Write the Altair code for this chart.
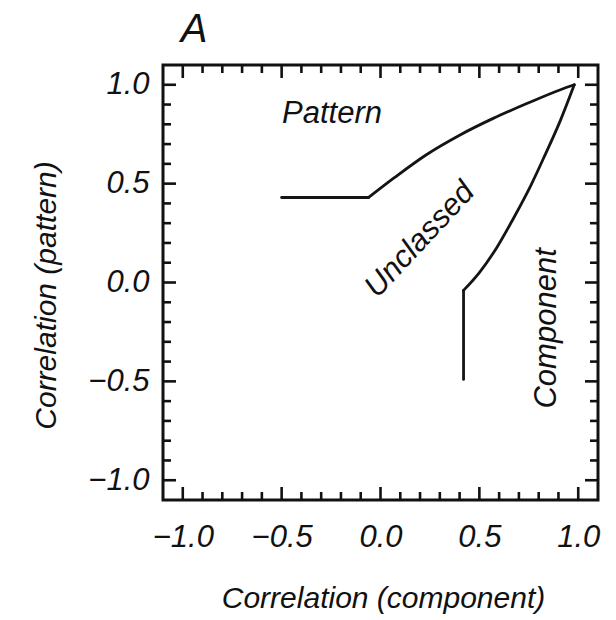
import altair as alt
import pandas as pd

# Boundary curves of the classification regions (correlation space)
pattern_flat_x = [-0.50, -0.06]
pattern_flat_y = [0.43, 0.43]
pattern_arc_x = [-0.06, 0.07, 0.23, 0.40, 0.57, 0.74, 0.91, 0.98]
pattern_arc_y = [0.43, 0.53, 0.645, 0.745, 0.83, 0.905, 0.975, 1.00]
component_stem_x = [0.42, 0.42]
component_stem_y = [-0.49, -0.04]
component_arc_x = [0.42, 0.50, 0.59, 0.67, 0.76, 0.83, 0.91, 0.98]
component_arc_y = [-0.04, 0.05, 0.18, 0.32, 0.49, 0.64, 0.82, 1.00]

# Region labels
region_names = ["Pattern", "Unclassed", "Component"]
region_x = [-0.245, 0.20, 0.84]
region_y = [0.85, 0.215, -0.232]
region_angle = [0, 313, 270]

# Tick positions
major_ticks = [-1.0, -0.5, 0.0, 0.5, 1.0]
minor_ticks = [-0.9, -0.8, -0.7, -0.6, -0.4, -0.3, -0.2, -0.1,
               0.1, 0.2, 0.3, 0.4, 0.6, 0.7, 0.8, 0.9]

W = H = 435
FONT = "Liberation Sans"
INK = "#111"


def segment_frame(parts):
    rows = []
    for name, xs_, ys_ in parts:
        for i, (xv, yv) in enumerate(zip(xs_, ys_)):
            rows.append({"x": xv, "y": yv, "curve": name, "i": i})
    return pd.DataFrame(rows)


straight = segment_frame([
    ("pattern_flat", pattern_flat_x, pattern_flat_y),
    ("component_stem", component_stem_x, component_stem_y),
])
arcs = segment_frame([
    ("pattern_arc", pattern_arc_x, pattern_arc_y),
    ("component_arc", component_arc_x, component_arc_y),
])
labels = pd.DataFrame({"name": region_names, "x": region_x,
                       "y": region_y, "angle": region_angle})

xs = alt.Scale(domain=[-1.1, 1.1], nice=False, zero=False)
ys = alt.Scale(domain=[-1.1, 1.1], nice=False, zero=False)

axis_common = dict(
    values=major_ticks, format=".1f", ticks=False, domain=False, grid=False,
    labelFont=FONT, labelFontStyle="italic", labelFontSize=31, labelColor=INK,
    titleFont=FONT, titleFontStyle="italic", titleFontWeight="normal",
    titleFontSize=30, titleColor=INK,
)
x_axis = alt.Axis(
    title="Correlation (component)", labelPadding=22,
    titleX=220, titleY=98, titleBaseline="middle", titleAlign="center",
    **axis_common)
y_axis = alt.Axis(
    title="Correlation (pattern)", labelPadding=14,
    titleX=-117, titleY=230, titleAngle=270, titleAlign="center",
    titleBaseline="middle", **axis_common)


def curve_layer(df, interp):
    return alt.Chart(df).mark_line(
        color="#141414", strokeWidth=2.8, interpolate=interp,
        strokeCap="round", strokeJoin="round",
    ).encode(
        x=alt.X("x:Q", scale=xs, axis=x_axis),
        y=alt.Y("y:Q", scale=ys, axis=y_axis),
        detail="curve:N",
        order="i:Q",
    )


text_layers = [
    alt.Chart(labels[labels["name"] == n]).mark_text(
        font=FONT, fontStyle="italic", fontSize=31, color=INK,
        angle=a, align="center", baseline="middle",
    ).encode(
        x=alt.X("x:Q", scale=xs, axis=x_axis),
        y=alt.Y("y:Q", scale=ys, axis=y_axis),
        text="name:N",
    )
    for n, a in zip(region_names, region_angle)
]

# Panel letter above the frame
panel = alt.Chart(pd.DataFrame({"t": ["A"]})).mark_text(
    font=FONT, fontStyle="italic", fontSize=40, color=INK,
    align="center", baseline="alphabetic",
).encode(text="t:N", x=alt.value(31), y=alt.value(-23))


def tick_layers(values, length):
    df = pd.DataFrame({"v": values})
    base = alt.Chart(df).mark_rule(color=INK, strokeWidth=2.6)
    xv = alt.X("v:Q", scale=xs, axis=x_axis)
    yv = alt.Y("v:Q", scale=ys, axis=y_axis)
    return [
        base.encode(x=xv, y=alt.value(0), y2=alt.value(length)),            # top
        base.encode(x=xv, y=alt.value(H), y2=alt.value(H - length)),        # bottom
        base.encode(y=yv, x=alt.value(0), x2=alt.value(length)),            # left
        base.encode(y=yv, x=alt.value(W), x2=alt.value(W - length)),        # right
    ]


chart = alt.layer(
    curve_layer(straight, "linear"),
    curve_layer(arcs, "monotone"),
    *text_layers,
    panel,
    *tick_layers(major_ticks, 13),
    *tick_layers(minor_ticks, 8),
).properties(
    width=W, height=H,
    autosize=alt.AutoSizeParams(type="none"),
    padding={"left": 163, "top": 65, "right": 18, "bottom": 120},
).configure(
    background="white",
).configure_view(
    stroke=INK, strokeWidth=3,
)

chart.save("out.html", embed_options={"renderer": "svg", "actions": False})
